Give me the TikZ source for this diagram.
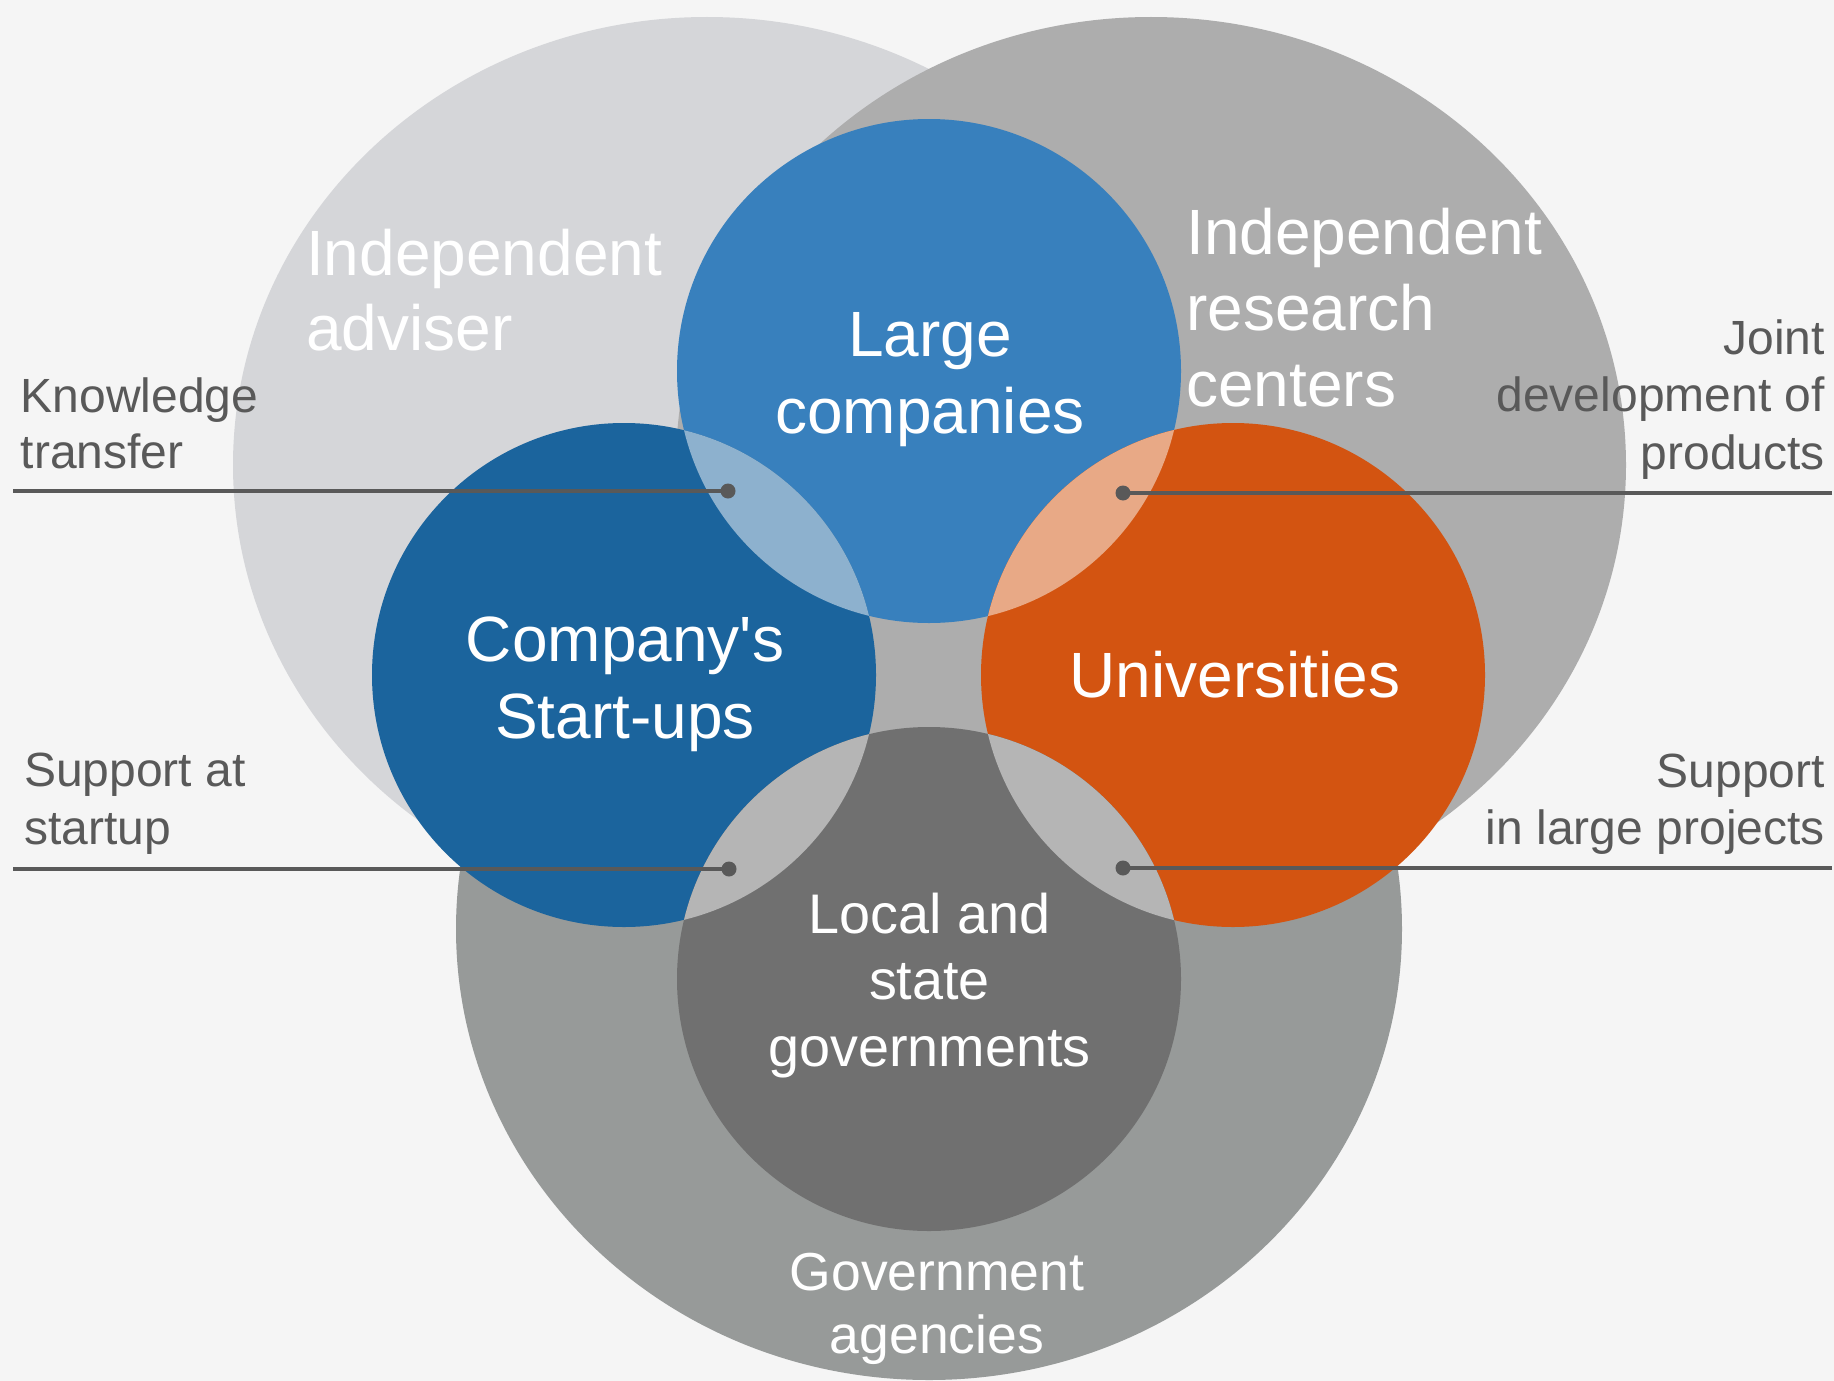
\documentclass[tikz,border=0pt]{standalone}
\usepackage{fontspec}
\setmainfont{Liberation Sans}[Ligatures=TeXOff]
\definecolor{bgc}{HTML}{F5F5F5}
\definecolor{advc}{HTML}{D5D6D9}
\definecolor{resc}{HTML}{ADADAD}
\definecolor{govc}{HTML}{979A99}
\definecolor{lcc}{HTML}{3880BD}
\definecolor{suc}{HTML}{1B649D}
\definecolor{unic}{HTML}{D35411}
\definecolor{locc}{HTML}{707070}
\definecolor{lenslb}{HTML}{8DB1CE}
\definecolor{lenslo}{HTML}{E8A986}
\definecolor{lensgr}{HTML}{B5B5B5}
\definecolor{sidec}{HTML}{595959}
\begin{document}
\begin{tikzpicture}[x=1pt,y=-1pt,
  bigtxt/.style={text=white, inner sep=0pt, font=\fontsize{64}{75.5}\selectfont},
  sidetxt/.style={text=sidec, inner sep=0pt, font=\fontsize{48}{57}\selectfont},
  conn/.style={draw=sidec, line width=4pt},
  dotmark/.style={fill=sidec}]
\useasboundingbox (0,0) rectangle (1834,1381);
\fill[bgc] (0,0) rectangle (1834,1381);
% centres
\coordinate (cADV) at (707,465);
\coordinate (cRES) at (1151,465);
\coordinate (cGOV) at (929,929);
\coordinate (cLC) at (929,371);
\coordinate (cSU) at (624,675);
\coordinate (cUN) at (1233,675);
\coordinate (cLO) at (929,979);
\begin{scope}
\clip (0,0) rectangle (1834,1381);
\fill[advc] (cADV) ellipse[x radius=474, y radius=448];
\fill[govc] (cGOV) ellipse[x radius=473, y radius=451];
\fill[resc] (cRES) ellipse[x radius=475, y radius=448];
\fill[lcc] (cLC) circle[radius=252];
\fill[suc] (cSU) circle[radius=252];
\fill[unic] (cUN) circle[radius=252];
\fill[locc] (cLO) circle[radius=252];
\begin{scope}
\clip (cLC) circle[radius=252];
\fill[lenslb] (cSU) circle[radius=252];
\fill[lenslo] (cUN) circle[radius=252];
\end{scope}
\begin{scope}
\clip (cLO) circle[radius=252];
\fill[lensgr] (cSU) circle[radius=252];
\fill[lensgr] (cUN) circle[radius=252];
\end{scope}
\end{scope}
% connectors
\coordinate (dKT) at (728,491);
\coordinate (eKT) at (13,491);
\coordinate (dJD) at (1123,493);
\coordinate (eJD) at (1832,493);
\coordinate (dSS) at (729,869);
\coordinate (eSS) at (13,869);
\coordinate (dSL) at (1123,868);
\coordinate (eSL) at (1832,868);
\draw[conn] (eKT) -- (dKT);
\draw[conn] (eJD) -- (dJD);
\draw[conn] (eSS) -- (dSS);
\draw[conn] (eSL) -- (dSL);
\fill[dotmark] (dKT) circle[radius=7.5];
\fill[dotmark] (dJD) circle[radius=7.5];
\fill[dotmark] (dSS) circle[radius=7.5];
\fill[dotmark] (dSL) circle[radius=7.5];
% circle labels (anchor = baseline of last line)
\node[bigtxt, anchor=base west, align=left, font=\fontsize{64}{75}\selectfont] (tADV) at (306,350) {Independent\\adviser};
\node[bigtxt, anchor=base west, align=left, font=\fontsize{64}{75.7}\selectfont] (tRES) at (1186,406) {Independent\\research\\centers};
\node[bigtxt, anchor=base, align=center, font=\fontsize{64}{77}\selectfont] (tLC) at (930,433) {Large\\companies};
\node[bigtxt, anchor=base, align=center, font=\fontsize{64}{77}\selectfont] (tSU) at (625,738) {Company's\\Start-ups};
\node[bigtxt, anchor=base, align=center] (tUN) at (1235,697) {Universities};
\node[bigtxt, anchor=base, align=center, font=\fontsize{55.8}{66.5}\selectfont] (tLO) at (929.5,1066) {Local and\\state\\governments};
\node[bigtxt, anchor=base, align=center, font=\fontsize{53.5}{63.5}\selectfont] (tGOV) at (937,1353.5) {Government\\agencies};
% side labels
\node[sidetxt, anchor=base west, align=left, font=\fontsize{48}{56}\selectfont] (tKT) at (20.5,468) {Knowledge\\transfer};
\node[sidetxt, anchor=base east, align=right, font=\fontsize{48}{57.5}\selectfont] (tJD) at (1825,469) {Joint\\development of\\products};
\node[sidetxt, anchor=base west, align=left, font=\fontsize{48}{58}\selectfont] (tSS) at (24,844) {Support at\\startup};
\node[sidetxt, anchor=base east, align=right, font=\fontsize{48}{57}\selectfont] (tSL) at (1825,844) {Support\\in large projects};
\end{tikzpicture}
\end{document}
